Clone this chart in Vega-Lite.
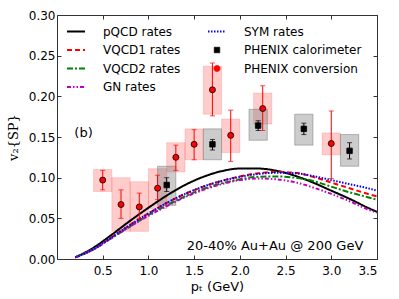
{
  "$schema": "https://vega.github.io/schema/vega-lite/v6.json",
  "width": 320,
  "height": 244,
  "autosize": {"type": "none"},
  "padding": {"left": 57, "top": 15, "right": 22, "bottom": 40},
  "config": {
    "view": {"stroke": "#333333", "strokeWidth": 1},
    "font": "DejaVu Sans",
    "axis": {"grid": false, "domain": false, "labelFont": "DejaVu Sans", "labelFontSize": 12, "labelColor": "black", "tickColor": "#333333", "tickSize": -4, "tickWidth": 1}
  },
  "datasets": {
    "curves": [
      {"x": 0.2, "y": 0.002, "s": "pQCD rates"}, {"x": 0.4, "y": 0.014, "s": "pQCD rates"}, {"x": 0.6, "y": 0.030, "s": "pQCD rates"}, {"x": 0.8, "y": 0.047, "s": "pQCD rates"}, {"x": 1.0, "y": 0.063, "s": "pQCD rates"}, {"x": 1.2, "y": 0.078, "s": "pQCD rates"}, {"x": 1.4, "y": 0.091, "s": "pQCD rates"}, {"x": 1.6, "y": 0.101, "s": "pQCD rates"}, {"x": 1.8, "y": 0.108, "s": "pQCD rates"}, {"x": 2.0, "y": 0.1112, "s": "pQCD rates"}, {"x": 2.2, "y": 0.1112, "s": "pQCD rates"}, {"x": 2.4, "y": 0.1085, "s": "pQCD rates"}, {"x": 2.6, "y": 0.1025, "s": "pQCD rates"}, {"x": 2.8, "y": 0.094, "s": "pQCD rates"}, {"x": 3.0, "y": 0.084, "s": "pQCD rates"}, {"x": 3.2, "y": 0.074, "s": "pQCD rates"}, {"x": 3.4, "y": 0.063, "s": "pQCD rates"}, {"x": 3.5, "y": 0.058, "s": "pQCD rates"},
      {"x": 0.2, "y": 0.002, "s": "VQCD1 rates"}, {"x": 0.4, "y": 0.012, "s": "VQCD1 rates"}, {"x": 0.6, "y": 0.027, "s": "VQCD1 rates"}, {"x": 0.8, "y": 0.042, "s": "VQCD1 rates"}, {"x": 1.0, "y": 0.056, "s": "VQCD1 rates"}, {"x": 1.2, "y": 0.069, "s": "VQCD1 rates"}, {"x": 1.4, "y": 0.080, "s": "VQCD1 rates"}, {"x": 1.6, "y": 0.089, "s": "VQCD1 rates"}, {"x": 1.8, "y": 0.096, "s": "VQCD1 rates"}, {"x": 2.0, "y": 0.1015, "s": "VQCD1 rates"}, {"x": 2.2, "y": 0.1055, "s": "VQCD1 rates"}, {"x": 2.4, "y": 0.107, "s": "VQCD1 rates"}, {"x": 2.6, "y": 0.106, "s": "VQCD1 rates"}, {"x": 2.8, "y": 0.101, "s": "VQCD1 rates"}, {"x": 3.0, "y": 0.094, "s": "VQCD1 rates"}, {"x": 3.2, "y": 0.087, "s": "VQCD1 rates"}, {"x": 3.4, "y": 0.080, "s": "VQCD1 rates"}, {"x": 3.5, "y": 0.077, "s": "VQCD1 rates"},
      {"x": 0.2, "y": 0.002, "s": "VQCD2 rates"}, {"x": 0.4, "y": 0.012, "s": "VQCD2 rates"}, {"x": 0.6, "y": 0.026, "s": "VQCD2 rates"}, {"x": 0.8, "y": 0.040, "s": "VQCD2 rates"}, {"x": 1.0, "y": 0.054, "s": "VQCD2 rates"}, {"x": 1.2, "y": 0.066, "s": "VQCD2 rates"}, {"x": 1.4, "y": 0.077, "s": "VQCD2 rates"}, {"x": 1.6, "y": 0.086, "s": "VQCD2 rates"}, {"x": 1.8, "y": 0.093, "s": "VQCD2 rates"}, {"x": 2.0, "y": 0.098, "s": "VQCD2 rates"}, {"x": 2.2, "y": 0.101, "s": "VQCD2 rates"}, {"x": 2.4, "y": 0.1015, "s": "VQCD2 rates"}, {"x": 2.6, "y": 0.100, "s": "VQCD2 rates"}, {"x": 2.8, "y": 0.096, "s": "VQCD2 rates"}, {"x": 3.0, "y": 0.089, "s": "VQCD2 rates"}, {"x": 3.2, "y": 0.082, "s": "VQCD2 rates"}, {"x": 3.4, "y": 0.076, "s": "VQCD2 rates"}, {"x": 3.5, "y": 0.073, "s": "VQCD2 rates"},
      {"x": 0.2, "y": 0.002, "s": "GN rates"}, {"x": 0.4, "y": 0.012, "s": "GN rates"}, {"x": 0.6, "y": 0.026, "s": "GN rates"}, {"x": 0.8, "y": 0.040, "s": "GN rates"}, {"x": 1.0, "y": 0.053, "s": "GN rates"}, {"x": 1.2, "y": 0.065, "s": "GN rates"}, {"x": 1.4, "y": 0.076, "s": "GN rates"}, {"x": 1.6, "y": 0.085, "s": "GN rates"}, {"x": 1.8, "y": 0.092, "s": "GN rates"}, {"x": 2.0, "y": 0.097, "s": "GN rates"}, {"x": 2.2, "y": 0.099, "s": "GN rates"}, {"x": 2.4, "y": 0.098, "s": "GN rates"}, {"x": 2.6, "y": 0.0945, "s": "GN rates"}, {"x": 2.8, "y": 0.088, "s": "GN rates"}, {"x": 3.0, "y": 0.080, "s": "GN rates"}, {"x": 3.2, "y": 0.071, "s": "GN rates"}, {"x": 3.4, "y": 0.061, "s": "GN rates"}, {"x": 3.5, "y": 0.057, "s": "GN rates"},
      {"x": 0.2, "y": 0.002, "s": "SYM rates"}, {"x": 0.4, "y": 0.012, "s": "SYM rates"}, {"x": 0.6, "y": 0.027, "s": "SYM rates"}, {"x": 0.8, "y": 0.042, "s": "SYM rates"}, {"x": 1.0, "y": 0.056, "s": "SYM rates"}, {"x": 1.2, "y": 0.069, "s": "SYM rates"}, {"x": 1.4, "y": 0.080, "s": "SYM rates"}, {"x": 1.6, "y": 0.089, "s": "SYM rates"}, {"x": 1.8, "y": 0.096, "s": "SYM rates"}, {"x": 2.0, "y": 0.101, "s": "SYM rates"}, {"x": 2.2, "y": 0.1045, "s": "SYM rates"}, {"x": 2.4, "y": 0.106, "s": "SYM rates"}, {"x": 2.6, "y": 0.1055, "s": "SYM rates"}, {"x": 2.8, "y": 0.102, "s": "SYM rates"}, {"x": 3.0, "y": 0.097, "s": "SYM rates"}, {"x": 3.2, "y": 0.092, "s": "SYM rates"}, {"x": 3.4, "y": 0.087, "s": "SYM rates"}, {"x": 3.5, "y": 0.084, "s": "SYM rates"}
    ],
    "conv": [
      {"x": 0.5, "y": 0.097, "elo": 0.085, "ehi": 0.109, "bx1": 0.4, "bx2": 0.6, "blo": 0.083, "bhi": 0.110},
      {"x": 0.7, "y": 0.067, "elo": 0.050, "ehi": 0.085, "bx1": 0.6, "bx2": 0.8, "blo": 0.034, "bhi": 0.100},
      {"x": 0.9, "y": 0.064, "elo": 0.050, "ehi": 0.081, "bx1": 0.8, "bx2": 1.0, "blo": 0.034, "bhi": 0.095},
      {"x": 1.1, "y": 0.087, "elo": 0.073, "ehi": 0.103, "bx1": 1.0, "bx2": 1.2, "blo": 0.062, "bhi": 0.111},
      {"x": 1.3, "y": 0.125, "elo": 0.109, "ehi": 0.140, "bx1": 1.2, "bx2": 1.4, "blo": 0.107, "bhi": 0.143},
      {"x": 1.5, "y": 0.141, "elo": 0.122, "ehi": 0.159, "bx1": 1.4, "bx2": 1.6, "blo": 0.122, "bhi": 0.160},
      {"x": 1.7, "y": 0.208, "elo": 0.176, "ehi": 0.241, "bx1": 1.6, "bx2": 1.8, "blo": 0.178, "bhi": 0.237},
      {"x": 1.9, "y": 0.152, "elo": 0.120, "ehi": 0.183, "bx1": 1.8, "bx2": 2.0, "blo": 0.131, "bhi": 0.172},
      {"x": 2.25, "y": 0.185, "elo": 0.158, "ehi": 0.213, "bx1": 2.15, "bx2": 2.35, "blo": 0.166, "bhi": 0.204},
      {"x": 3.0, "y": 0.142, "elo": 0.099, "ehi": 0.182, "bx1": 2.9, "bx2": 3.1, "blo": 0.128, "bhi": 0.155}
    ],
    "cal": [
      {"x": 1.2, "y": 0.091, "elo": 0.083, "ehi": 0.100, "bx1": 1.1, "bx2": 1.3, "blo": 0.066, "bhi": 0.114},
      {"x": 1.7, "y": 0.141, "elo": 0.134, "ehi": 0.147, "bx1": 1.6, "bx2": 1.8, "blo": 0.122, "bhi": 0.160},
      {"x": 2.2, "y": 0.164, "elo": 0.158, "ehi": 0.170, "bx1": 2.1, "bx2": 2.3, "blo": 0.146, "bhi": 0.184},
      {"x": 2.7, "y": 0.160, "elo": 0.153, "ehi": 0.167, "bx1": 2.6, "bx2": 2.8, "blo": 0.140, "bhi": 0.178},
      {"x": 3.2, "y": 0.133, "elo": 0.123, "ehi": 0.143, "bx1": 3.1, "bx2": 3.3, "blo": 0.114, "bhi": 0.153}
    ],
    "noteLeft": [
      {"x": 0.19, "y": 0.155, "t": "(b)"}
    ],
    "noteRight": [
      {"x": 3.35, "y": 0.016, "t": "20-40% Au+Au @ 200 GeV"}
    ]
  },
  "layer": [
    {
      "data": {"name": "conv"},
      "mark": {"type": "rect", "fill": "#ff0000", "fillOpacity": 0.2, "stroke": "#ff0000", "strokeOpacity": 0.15, "strokeWidth": 1},
      "encoding": {
        "x": {"field": "bx1", "type": "quantitative", "scale": {"domain": [0, 3.5], "nice": false, "zero": false},
              "axis": {"orient": "bottom", "values": [0.5, 1.0, 1.5, 2.0, 2.5, 3.0, 3.5], "format": ".1f", "labelPadding": 10, "title": "pₜ (GeV)", "titleFont": "DejaVu Sans", "titleFontSize": 13, "titleFontWeight": "normal", "titlePadding": 4}},
        "x2": {"field": "bx2"},
        "y": {"field": "blo", "type": "quantitative", "scale": {"domain": [0, 0.3], "nice": false, "zero": false},
              "axis": {"orient": "left", "values": [0, 0.05, 0.1, 0.15, 0.2, 0.25, 0.3], "format": ".2f", "labelPadding": 6, "title": "v₂{SP}", "titleFont": "DejaVu Serif", "titleFontSize": 13, "titleFontWeight": "normal", "titlePadding": 8}},
        "y2": {"field": "bhi"}
      }
    },
    {
      "data": {"name": "cal"},
      "mark": {"type": "rect", "fill": "#808080", "fillOpacity": 0.4, "stroke": "#606060", "strokeOpacity": 0.4, "strokeWidth": 1},
      "encoding": {
        "x": {"field": "bx1", "type": "quantitative", "scale": {"domain": [0, 3.5], "nice": false, "zero": false},
              "axis": {"orient": "top", "values": [0.5, 1.0, 1.5, 2.0, 2.5, 3.0, 3.5], "labels": false, "title": null}},
        "x2": {"field": "bx2"},
        "y": {"field": "blo", "type": "quantitative", "scale": {"domain": [0, 0.3], "nice": false, "zero": false},
              "axis": {"orient": "right", "values": [0, 0.05, 0.1, 0.15, 0.2, 0.25, 0.3], "labels": false, "title": null}},
        "y2": {"field": "bhi"}
      }
    },
    {
      "data": {"name": "curves"},
      "mark": {"type": "line", "strokeWidth": 2, "interpolate": "monotone", "strokeCap": "butt", "clip": true},
      "encoding": {
        "x": {"field": "x", "type": "quantitative", "scale": {"domain": [0, 3.5], "nice": false, "zero": false}, "axis": null},
        "y": {"field": "y", "type": "quantitative", "scale": {"domain": [0, 0.3], "nice": false, "zero": false}, "axis": null},
        "detail": {"field": "s"},
        "color": {
          "field": "s", "type": "nominal",
          "scale": {
            "domain": ["pQCD rates", "VQCD1 rates", "VQCD2 rates", "GN rates", "SYM rates", "PHENIX calorimeter", "PHENIX conversion"],
            "range": ["#000000", "#ff0000", "#008000", "#bf00bf", "#0000ff", "#000000", "#ff0000"]
          },
          "legend": {
            "title": null, "orient": "none", "legendX": 13, "legendY": 10.5, "columns": 2, "columnPadding": 23, "rowPadding": 6.5,
            "padding": 0, "labelFont": "DejaVu Sans", "labelFontSize": 12, "labelColor": "black", "labelOffset": 21, "symbolSize": 324, "symbolStrokeWidth": 2, "labelLimit": 200,
            "encode": {
              "symbols": {"update": {
                "shape": {"signal": "datum.value === 'PHENIX calorimeter' ? 'square' : datum.value === 'PHENIX conversion' ? 'circle' : 'stroke'"},
                "size": {"signal": "datum.value === 'PHENIX calorimeter' ? 30 : datum.value === 'PHENIX conversion' ? 36 : 324"},
                "fill": {"signal": "datum.value === 'PHENIX calorimeter' ? '#000000' : datum.value === 'PHENIX conversion' ? '#ff0000' : 'transparent'"},
                "stroke": {"signal": "datum.value === 'PHENIX calorimeter' || datum.value === 'PHENIX conversion' ? '#000000' : scale('color', datum.value)"},
                "strokeWidth": {"signal": "datum.value === 'PHENIX calorimeter' || datum.value === 'PHENIX conversion' ? 0.8 : 2"},
                "strokeDash": {"signal": "datum.value === 'VQCD1 rates' ? [5, 3] : datum.value === 'VQCD2 rates' ? [6, 2, 2, 2] : datum.value === 'GN rates' ? [4, 2, 1.5, 2, 1.5, 2] : datum.value === 'SYM rates' ? [1.5, 1.5] : [1, 0]"},
                "opacity": {"value": 1}
              }}
            }
          }
        },
        "strokeDash": {
          "field": "s", "type": "nominal",
          "scale": {
            "domain": ["pQCD rates", "VQCD1 rates", "VQCD2 rates", "GN rates", "SYM rates"],
            "range": [[1, 0], [5, 3], [6, 2, 2, 2], [4, 2, 1.5, 2, 1.5, 2], [1.5, 1.5]]
          },
          "legend": null
        }
      }
    },
    {
      "data": {"name": "conv"},
      "mark": {"type": "rule", "color": "#ff0000", "strokeWidth": 1},
      "encoding": {
        "x": {"field": "x", "type": "quantitative", "scale": {"domain": [0, 3.5], "nice": false, "zero": false}, "axis": null},
        "y": {"field": "elo", "type": "quantitative", "scale": {"domain": [0, 0.3], "nice": false, "zero": false}, "axis": null},
        "y2": {"field": "ehi"}
      }
    },
    {
      "data": {"name": "conv"},
      "mark": {"type": "tick", "color": "#ff0000", "orient": "horizontal", "size": 5, "thickness": 1},
      "encoding": {
        "x": {"field": "x", "type": "quantitative", "scale": {"domain": [0, 3.5], "nice": false, "zero": false}, "axis": null},
        "y": {"field": "elo", "type": "quantitative", "scale": {"domain": [0, 0.3], "nice": false, "zero": false}, "axis": null}
      }
    },
    {
      "data": {"name": "conv"},
      "mark": {"type": "tick", "color": "#ff0000", "orient": "horizontal", "size": 5, "thickness": 1},
      "encoding": {
        "x": {"field": "x", "type": "quantitative", "scale": {"domain": [0, 3.5], "nice": false, "zero": false}, "axis": null},
        "y": {"field": "ehi", "type": "quantitative", "scale": {"domain": [0, 0.3], "nice": false, "zero": false}, "axis": null}
      }
    },
    {
      "data": {"name": "cal"},
      "mark": {"type": "rule", "color": "#000000", "strokeWidth": 1},
      "encoding": {
        "x": {"field": "x", "type": "quantitative", "scale": {"domain": [0, 3.5], "nice": false, "zero": false}, "axis": null},
        "y": {"field": "elo", "type": "quantitative", "scale": {"domain": [0, 0.3], "nice": false, "zero": false}, "axis": null},
        "y2": {"field": "ehi"}
      }
    },
    {
      "data": {"name": "cal"},
      "mark": {"type": "tick", "color": "#000000", "orient": "horizontal", "size": 5, "thickness": 1},
      "encoding": {
        "x": {"field": "x", "type": "quantitative", "scale": {"domain": [0, 3.5], "nice": false, "zero": false}, "axis": null},
        "y": {"field": "elo", "type": "quantitative", "scale": {"domain": [0, 0.3], "nice": false, "zero": false}, "axis": null}
      }
    },
    {
      "data": {"name": "cal"},
      "mark": {"type": "tick", "color": "#000000", "orient": "horizontal", "size": 5, "thickness": 1},
      "encoding": {
        "x": {"field": "x", "type": "quantitative", "scale": {"domain": [0, 3.5], "nice": false, "zero": false}, "axis": null},
        "y": {"field": "ehi", "type": "quantitative", "scale": {"domain": [0, 0.3], "nice": false, "zero": false}, "axis": null}
      }
    },
    {
      "data": {"name": "cal"},
      "mark": {"type": "point", "shape": "square", "filled": true, "fill": "#000000", "stroke": "#000000", "strokeWidth": 0.8, "size": 30, "opacity": 1},
      "encoding": {
        "x": {"field": "x", "type": "quantitative", "scale": {"domain": [0, 3.5], "nice": false, "zero": false}, "axis": null},
        "y": {"field": "y", "type": "quantitative", "scale": {"domain": [0, 0.3], "nice": false, "zero": false}, "axis": null}
      }
    },
    {
      "data": {"name": "conv"},
      "mark": {"type": "point", "shape": "circle", "filled": true, "fill": "#ff0000", "stroke": "#000000", "strokeWidth": 0.8, "size": 36, "opacity": 1},
      "encoding": {
        "x": {"field": "x", "type": "quantitative", "scale": {"domain": [0, 3.5], "nice": false, "zero": false}, "axis": null},
        "y": {"field": "y", "type": "quantitative", "scale": {"domain": [0, 0.3], "nice": false, "zero": false}, "axis": null}
      }
    },
    {
      "data": {"name": "noteLeft"},
      "mark": {"type": "text", "font": "DejaVu Sans", "fontSize": 13, "baseline": "middle", "align": "left", "color": "#000000"},
      "encoding": {
        "x": {"field": "x", "type": "quantitative", "scale": {"domain": [0, 3.5], "nice": false, "zero": false}, "axis": null},
        "y": {"field": "y", "type": "quantitative", "scale": {"domain": [0, 0.3], "nice": false, "zero": false}, "axis": null},
        "text": {"field": "t"}
      }
    },
    {
      "data": {"name": "noteRight"},
      "mark": {"type": "text", "font": "DejaVu Sans", "fontSize": 13, "baseline": "middle", "align": "right", "color": "#000000"},
      "encoding": {
        "x": {"field": "x", "type": "quantitative", "scale": {"domain": [0, 3.5], "nice": false, "zero": false}, "axis": null},
        "y": {"field": "y", "type": "quantitative", "scale": {"domain": [0, 0.3], "nice": false, "zero": false}, "axis": null},
        "text": {"field": "t"}
      }
    }
  ],
  "resolve": {"axis": {"x": "independent", "y": "independent"}}
}
